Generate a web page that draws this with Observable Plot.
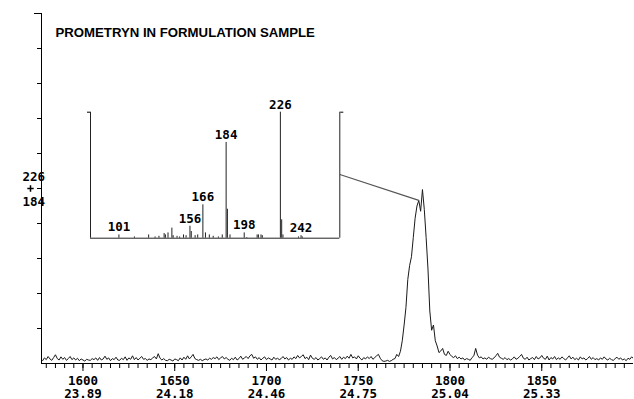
<!DOCTYPE html>
<html><head><meta charset="utf-8">
<script src="https://cdn.jsdelivr.net/npm/d3@7"></script>
<script src="https://cdn.jsdelivr.net/npm/@observablehq/plot@0.6"></script>
<style>
body{margin:0;background:#fff}
#wrap{position:relative;width:634px;height:399px;overflow:hidden}
#wrap svg{position:absolute;left:0;top:0}
</style></head><body><div id="wrap"></div>
<script>
// ---- data ----
const title = "PROMETRYN IN FORMULATION SAMPLE";
const scanStart = 1578;
const intensity = [
0.8,1.6,1.1,2.0,1.3,0.9,1.7,2.5,1.4,1.0,
1.9,1.2,1.7,0.9,1.4,2.0,1.1,1.6,1.0,1.5,
0.8,1.3,1.0,0.7,1.2,1.0,0.9,1.4,1.1,1.6,
0.9,1.7,1.0,1.3,2.1,1.2,1.6,0.8,1.4,1.1,
1.8,1.0,0.9,1.5,1.1,1.9,0.9,1.6,1.2,2.2,
1.1,1.7,1.0,1.5,2.0,1.2,1.4,0.9,1.3,1.1,
1.6,2.0,1.3,2.8,1.5,1.0,1.4,0.9,0.8,1.2,
1.0,0.7,1.3,1.1,0.8,1.6,1.0,1.8,1.2,2.2,
1.3,1.9,2.6,1.4,1.1,0.9,1.2,0.8,1.1,1.3,
1.0,1.5,1.2,1.7,1.4,1.9,1.1,1.6,2.0,1.3,
1.7,1.2,0.9,1.5,1.1,1.8,1.0,1.4,2.1,1.2,
1.6,2.0,1.4,2.2,2.6,1.5,1.9,1.2,1.7,1.0,
1.5,1.9,1.1,1.6,1.3,1.0,1.8,1.2,1.5,1.1,
1.4,2.0,1.3,1.7,1.0,1.5,1.2,1.9,1.4,2.3,
1.6,2.0,2.5,1.4,1.8,1.1,2.4,1.5,1.2,1.7,
1.0,1.4,1.9,1.2,1.6,1.0,1.8,2.3,1.3,1.7,
1.1,1.5,2.0,1.2,1.8,1.4,2.1,1.5,2.6,1.6,
1.9,1.3,2.2,1.5,1.0,1.7,1.3,1.9,1.4,2.0,
1.2,1.7,2.2,2.6,1.5,0.8,0.6,0.7,0.9,0.6,
0.8,1.2,1.4,2.6,2.0,3.5,6.5,11,16,24,
28,30.5,36,41.5,45,46.6,43.5,49.7,44,36,
27,15,9.5,11,6.5,5.0,3.1,3.6,4.3,2.6,
2.3,3.5,2.6,2.0,1.7,2.2,1.4,1.8,1.3,1.6,
1.0,1.4,1.2,0.9,1.7,2.2,4.3,2.4,1.6,1.9,
1.3,1.6,1.2,1.8,1.4,1.2,1.6,2.2,2.9,1.8,
1.5,1.2,1.7,1.1,1.4,1.0,1.3,1.9,1.2,1.5,
2.0,2.6,1.5,1.2,1.8,1.0,1.4,1.7,1.1,2.0,
1.3,1.6,2.3,1.5,1.2,2.1,1.0,1.7,1.3,2.0,
1.1,1.6,1.2,1.9,1.4,1.0,1.6,2.2,1.3,1.8,
1.1,1.5,1.0,1.9,1.3,1.6,1.0,1.4,2.0,1.2,
1.7,1.1,1.4,1.0,1.6,1.2,1.9,1.3,1.0,1.5,
1.1,0.9,1.4,1.8,1.2,1.6,1.0,1.3,0.8,1.5,
1.2,1.9,1.4
];
const majorScans = [1600, 1650, 1700, 1750, 1800, 1850];
const retentionTimes = ["23.89", "24.18", "24.46", "24.75", "25.04", "25.33"];
const peakIons = ["226", "184"];
const peakLevel = 50;

const mz =        [101, 113, 124, 129, 132, 136, 137, 139, 142, 143, 146, 148, 151, 153, 156, 157, 160, 162, 166, 168, 171, 174, 178, 181, 184, 185, 187, 198, 200, 208, 209, 211, 212, 226, 227, 228, 240, 242, 243];
const abundance = [2.6, 1.0, 2.6, 1.0, 1.5, 3.7, 2.6, 4.2, 8.0, 2.0, 1.5, 1.0, 2.6, 2.0, 9.5, 5.3, 2.0, 2.6, 26.5, 4.2, 2.6, 1.5, 1.0, 2.6, 76, 23, 2.6, 4.2, 0.5, 2.6, 2.6, 2.6, 2.0, 100, 14.6, 2.6, 1.0, 2.0, 1.0];
const labeledMz = [101, 156, 166, 184, 198, 226, 242];

// ---- build ----
const chrom = intensity.map((v, i) => ({scan: scanStart + i, v}));
const spectrum = mz.map((m, i) => ({mz: m, ab: abundance[i]}));
const labeled = spectrum.filter(d => labeledMz.includes(d.mz));
const calloutTarget = chrom.find(d => d.scan === 1783);

const xDom = [1577.4, 1900];
const mono = "'DejaVu Sans Mono', monospace";
const wrap = document.getElementById("wrap");

const main = Plot.plot({
  width: 634, height: 399,
  marginLeft: 41, marginRight: 1, marginTop: 13, marginBottom: 36,
  x: {domain: xDom},
  y: {domain: [0, 100]},
  style: {fontFamily: mono, fontSize: "12.5px", fontWeight: "bold", color: "#000", background: "transparent"},
  marks: [
    Plot.ruleY([0], {stroke: "#000"}),
    Plot.ruleX([xDom[0]], {y1: 0, y2: 100, stroke: "#000"}),
    Plot.axisY({ticks: d3.range(10, 100, 10), tickSize: 4, tickFormat: () => "", label: null}),
    Plot.axisY({ticks: [100], tickSize: 7, tickFormat: () => "", label: null}),
    Plot.axisX({ticks: d3.range(1580, 1900, 5), tickSize: 5, tickFormat: () => "", label: null}),
    Plot.axisX({ticks: majorScans, tickSize: 8, tickPadding: 5, label: null,
      tickFormat: d => d + "\n" + retentionTimes[majorScans.indexOf(d)], lineHeight: 1}),
    Plot.text([peakIons[0]], {y: () => peakLevel, frameAnchor: "left", dx: -19, dy: -12}),
    Plot.text([peakIons[1]], {y: () => peakLevel, frameAnchor: "left", dx: -19, dy: 13}),
    Plot.dot([peakLevel], {y: d => d, frameAnchor: "left", dx: -11, symbol: "plus", r: 2.2, stroke: "#000", strokeWidth: 1.5, fill: "none"}),
    Plot.line(chrom, {x: "scan", y: "v", stroke: "#1a1a1a", strokeWidth: 1, clip: true}),
    Plot.link([calloutTarget], {x1: () => 1740, y1: () => 54, x2: "scan", y2: "v", stroke: "#555", strokeWidth: 1.2}),
    Plot.text([title], {frameAnchor: "top-left", dx: 14, dy: 14, textAnchor: "start",
      fontFamily: "'Liberation Sans', Arial, sans-serif", fontSize: 13.2, fontWeight: "bold"})
  ]
});
wrap.appendChild(main);

const inset = Plot.plot({
  width: 290, height: 160,
  marginLeft: 20, marginRight: 20.7, marginTop: 21.7, marginBottom: 12.3,
  x: {domain: [79, 272], axis: null},
  y: {domain: [0, 100]},
  style: {fontFamily: mono, fontSize: "12.5px", fontWeight: "bold", color: "#000", background: "transparent"},
  marks: [
    Plot.ruleY([0], {stroke: "#222"}),
    Plot.ruleX([79, 272], {y1: 0, y2: 100, stroke: "#222"}),
    Plot.axisY({ticks: [100], tickSize: 3, tickFormat: () => "", label: null, anchor: "left"}),
    Plot.axisY({ticks: [100], tickSize: 3, tickFormat: () => "", label: null, anchor: "right"}),
    Plot.ruleX(spectrum, {x: "mz", y1: 0, y2: "ab", stroke: "#222"}),
    Plot.text(labeled, {x: "mz", y: "ab", text: d => String(d.mz), dy: -7.5})
  ]
});
inset.style.left = "70px";
inset.style.top = "90px";
wrap.appendChild(inset);
</script>
</body></html>
